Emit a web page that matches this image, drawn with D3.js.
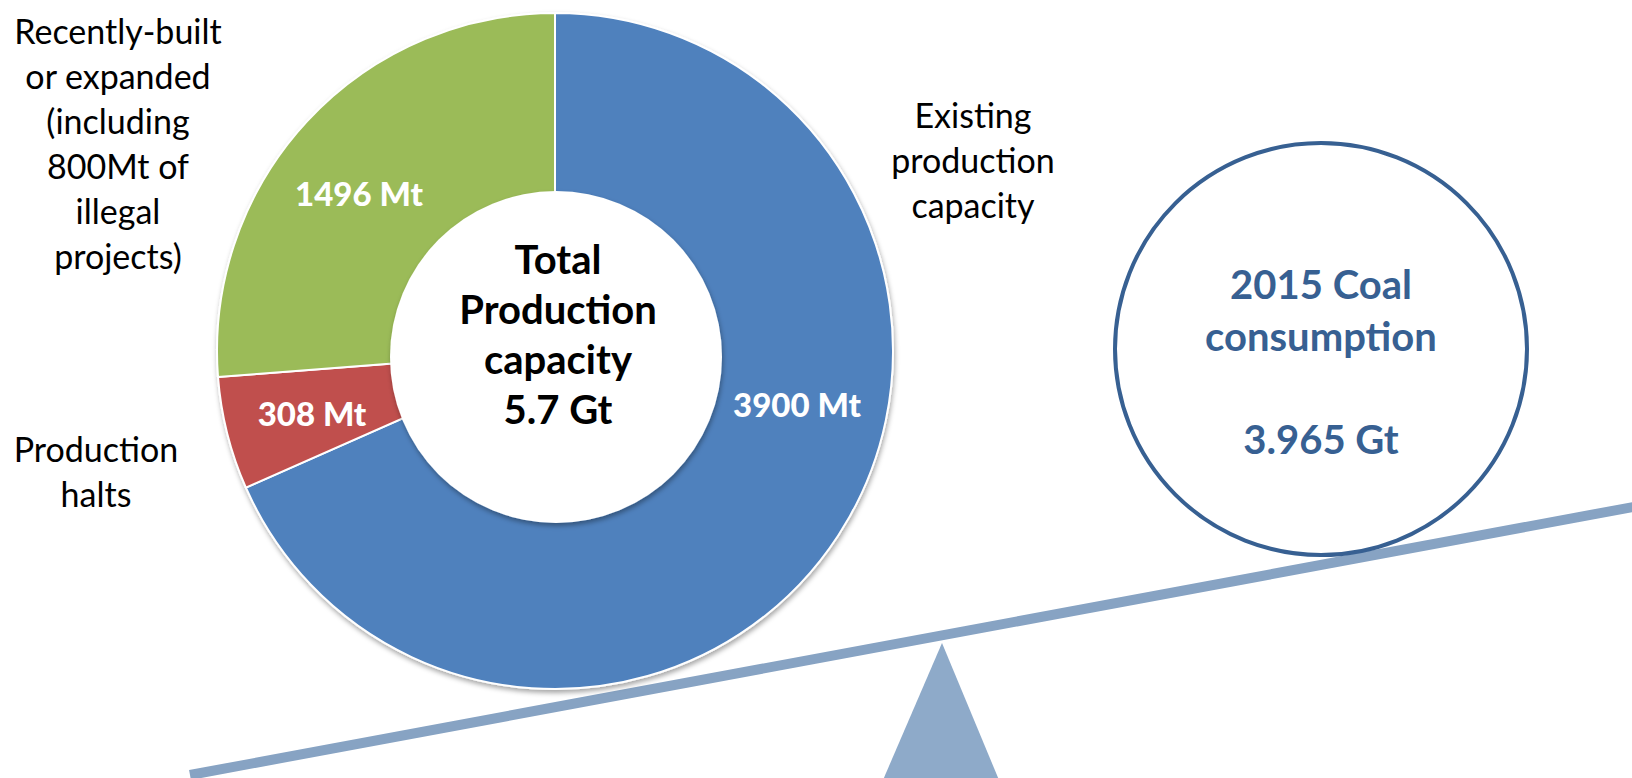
<!DOCTYPE html>
<html lang="en">
<head>
    <meta charset="UTF-8">
    <title>Coal production capacity vs consumption</title>
    <script src="https://d3js.org/d3.v7.min.js"></script>
    <style>
        body{
            margin: 0;
            background: #fff;
        }
        svg{
            display: block;
        }
        text{
            font-family: Lato, "Open Sans", sans-serif;
        }
    </style>
</head>
<body>
<script>

    const width = 1632
    const height = 778

    // data
    const segments = ["Existing production capacity", "Production halts", "Recently-built or expanded"]
    const values = [3900, 308, 1496]
    const unit = "Mt"
    const segmentNames = [
        ["Existing", "production", "capacity"],
        ["Production", "halts"],
        ["Recently-built", "or expanded", "(including", "800Mt of", "illegal", "projects)"]
    ]
    const totalLines = ["Total", "Production", "capacity", "5.7 Gt"]
    const consumptionLines = ["2015 Coal", "consumption", "", "3.965 Gt"]

    let svg = d3.select("body").append("svg")
                .attr("width", width)
                .attr("height", height)
                .attr("viewBox", `0 0 ${width} ${height}`)

    let defs = svg.append("defs")
    defs.append("filter").attr("id", "shadow")
        .attr("x", "-10%").attr("y", "-10%").attr("width", "120%").attr("height", "120%")
        .append("feDropShadow")
        .attr("dx", 1).attr("dy", 3).attr("stdDeviation", 2.5)
        .attr("flood-color", "#000").attr("flood-opacity", 0.35)

    const color = d3.scaleOrdinal()
                    .domain(segments)
                    .range(["#4f81bd", "#c0504d", "#9bbb59"])

    // ---- balance beam and fulcrum
    const beam = {x1: 190, y1: 775, x2: 1650, slope: -0.1857}
    svg.append("line")
        .attr("x1", beam.x1).attr("y1", beam.y1)
        .attr("x2", beam.x2).attr("y2", beam.y1 + beam.slope * (beam.x2 - beam.x1))
        .attr("stroke", "#87a3c3")
        .attr("stroke-width", 10)

    svg.append("path")
        .attr("d", d3.line()([[942, 643], [999, 780], [883, 780]]) + "Z")
        .attr("fill", "#8eaac9")

    // ---- doughnut
    const cx = 555, cy = 351, outerR = 338
    let gDonut = svg.append("g")
                    .attr("transform", `translate(${cx},${cy})`)

    const pie = d3.pie().sort(null).value(d => d.value)
    const arc = d3.arc().innerRadius(150).outerRadius(outerR)
    const slices = pie(segments.map((s, i) => ({name: s, value: values[i]})))

    gDonut.append("g")
        .attr("filter", "url(#shadow)")
        .selectAll("path")
        .data(slices)
        .enter()
        .append("path")
        .attr("d", arc)
        .attr("fill", d => color(d.data.name))
        .attr("stroke", "#fff")
        .attr("stroke-width", 2)

    // white centre disc with its label
    svg.append("circle")
        .attr("cx", 556).attr("cy", 357).attr("r", 166)
        .attr("fill", "#fff")
        .attr("filter", "url(#shadow)")

    // value labels in the ring
    const labelPos = [[797, 404], [312, 413], [359, 193]]
    svg.selectAll(".valLabel")
        .data(slices)
        .enter()
        .append("text")
        .attr("class", "valLabel")
        .attr("x", (d, i) => labelPos[i][0])
        .attr("y", (d, i) => labelPos[i][1])
        .attr("text-anchor", "middle")
        .attr("dominant-baseline", "central")
        .attr("fill", "#fff")
        .attr("font-weight", 900)
        .attr("font-size", 33)
        .text(d => d.data.value + " " + unit)

    svg.append("g").selectAll("text")
        .data(totalLines)
        .enter()
        .append("text")
        .attr("x", 558)
        .attr("y", (d, i) => 259 + i * 50)
        .attr("text-anchor", "middle")
        .attr("dominant-baseline", "central")
        .attr("font-weight", "bold")
        .attr("font-size", 40)
        .attr("fill", "#000")
        .text(d => d)

    // category names outside the ring
    const namePos = [{x: 973, y: 114}, {x: 96, y: 448}, {x: 118, y: 30}]
    segmentNames.forEach((lines, k) => {
        svg.append("g").selectAll("text")
            .data(lines)
            .enter()
            .append("text")
            .attr("x", namePos[k].x)
            .attr("y", (d, i) => namePos[k].y + i * 45)
            .attr("text-anchor", "middle")
            .attr("dominant-baseline", "central")
            .attr("font-size", 34)
            .attr("fill", "#000")
            .text(d => d)
    })

    // ---- consumption circle
    let gCons = svg.append("g")
    gCons.append("circle")
        .attr("cx", 1321).attr("cy", 349).attr("r", 206)
        .attr("fill", "#fff")
        .attr("stroke", "#376092")
        .attr("stroke-width", 4)

    gCons.selectAll("text")
        .data(consumptionLines)
        .enter()
        .append("text")
        .attr("x", 1321)
        .attr("y", (d, i) => 284 + i * 51.5)
        .attr("text-anchor", "middle")
        .attr("dominant-baseline", "central")
        .attr("font-weight", "bold")
        .attr("font-size", 40)
        .attr("fill", "#376092")
        .text(d => d)

</script>
</body>
</html>
